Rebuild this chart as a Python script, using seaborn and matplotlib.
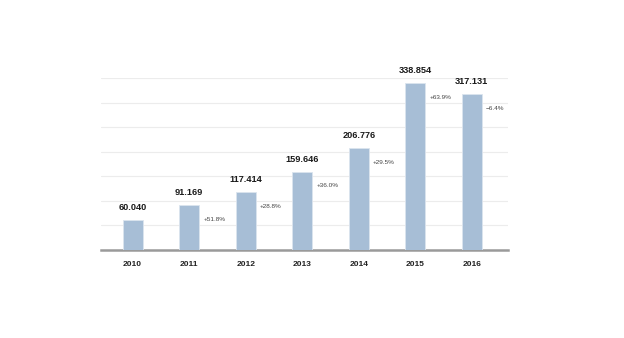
import matplotlib
matplotlib.use("Agg")
import matplotlib.pyplot as plt
import seaborn as sns
import pandas as pd

years = ["2010", "2011", "2012", "2013", "2014", "2015", "2016"]
values = [60040, 91169, 117414, 159646, 206776, 338854, 317131]
value_labels = ["60.040", "91.169", "117.414", "159.646", "206.776", "338.854", "317.131"]
change_labels = ["", "+51.8%", "+28.8%", "+36.0%", "+29.5%", "+63.9%", "\u22126.4%"]

sns.set_theme(style="white")
plt.rcParams["font.family"] = ["Liberation Sans", "DejaVu Sans"]

df = pd.DataFrame({"year": years, "value": values})

fig = plt.figure(figsize=(6.24, 3.38), dpi=100)
ax = fig.add_axes([101 / 624, (338 - 250) / 338, (508 - 101) / 624, (250 - 78) / 338])

sns.barplot(data=df, x="year", y="value", color="#a7bed6", saturation=1,
            width=0.353, edgecolor="#dbe4ee", linewidth=0.6, ax=ax, zorder=3)

ax.set_ylim(0, 350000)
ax.set_xlim(-0.56, 6.64)
ax.set_yticks(range(0, 350001, 50000))
ax.yaxis.grid(True, color="#ececec", linewidth=0.8)
ax.set_axisbelow(True)
ax.tick_params(axis="y", left=False, labelleft=False)
ax.tick_params(axis="x", bottom=False, length=0, pad=8, labelsize=6.0, colors="#222222")
for lbl in ax.get_xticklabels():
    lbl.set_fontweight("bold")
ax.set_xlabel("")
ax.set_ylabel("")
for s in ["top", "right", "left"]:
    ax.spines[s].set_visible(False)
ax.spines["bottom"].set_color("#9a9a9a")
ax.spines["bottom"].set_linewidth(1.8)

for i, (v, vl, cl) in enumerate(zip(values, value_labels, change_labels)):
    ax.annotate(vl, (i, v), xytext=(0, 9), textcoords="offset points",
                ha="center", va="center", fontsize=6.6, fontweight="bold",
                color="#1a1a1a", annotation_clip=False)
    if cl:
        ax.annotate(cl, (i + 0.18, v), xytext=(3, -10), textcoords="offset points",
                    ha="left", va="center", fontsize=4.6, color="#444444",
                    annotation_clip=False)

fig.savefig("out.png", dpi=100, facecolor="white")
